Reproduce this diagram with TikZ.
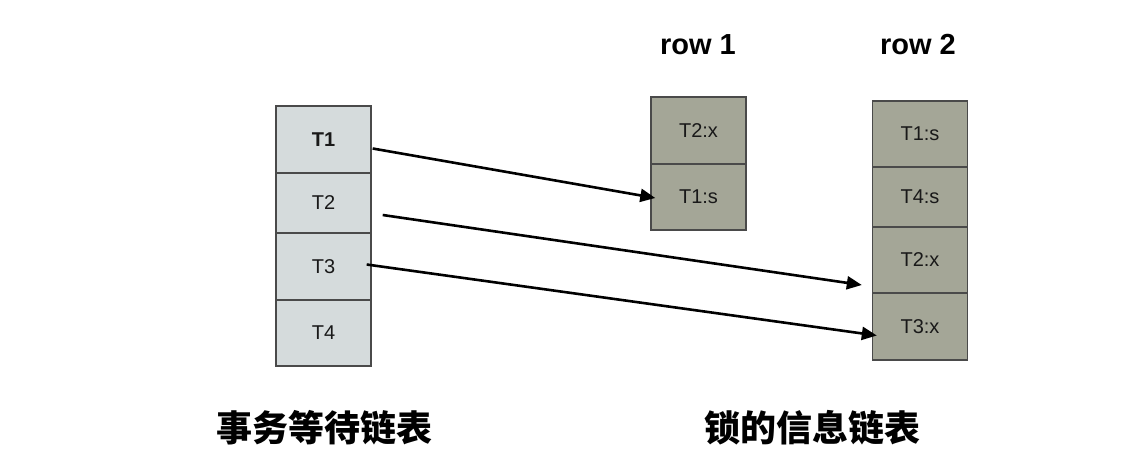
\documentclass[tikz,border=0pt]{standalone}
\usepackage{fontspec}
\setmainfont{Liberation Sans}
\newfontfamily\cjkfont{Noto Sans CJK SC}
\usetikzlibrary{arrows.meta}
\definecolor{waitgray}{HTML}{D5DBDC}
\definecolor{lockgray}{HTML}{A4A697}
\definecolor{edgegray}{HTML}{4A4A4A}
\begin{document}
\begin{tikzpicture}[x=1pt,y=-1pt,
    cell/.style={draw=edgegray, line width=1.4pt, minimum width=95pt, inner sep=0pt,
        font=\fontsize{20}{24}\selectfont, text=black!90},
    waitcell/.style={cell, fill=waitgray},
    lockcell/.style={cell, fill=lockgray},
    link/.style={line width=2.6pt, -{Triangle[length=15pt,width=13pt]}}]
    \useasboundingbox (0,0) rectangle (1137,474);
    % transaction wait list
    \node[waitcell, minimum height=67pt] (t1) at (323.5,139.5) {\bfseries T1};
    \node[waitcell, minimum height=60pt] (t2) at (323.5,203) {T2};
    \node[waitcell, minimum height=67pt] (t3) at (323.5,266.5) {T3};
    \node[waitcell, minimum height=66pt] (t4) at (323.5,333) {T4};
    % lock list of row 1
    \node[lockcell, minimum height=67pt] (ra2) at (698.5,130.5) {T2:x};
    \node[lockcell, minimum height=66pt] (ra1) at (698.5,197) {T1:s};
    % lock list of row 2
    \node[lockcell, minimum height=66pt] (rb1) at (920,134) {T1:s};
    \node[lockcell, minimum height=60pt] (rb4) at (920,197) {T4:s};
    \node[lockcell, minimum height=66pt] (rb2) at (920,260) {T2:x};
    \node[lockcell, minimum height=67pt] (rb3) at (920,326.5) {T3:x};
    % headings
    \node[font=\fontsize{29}{34}\selectfont\bfseries] (row1) at (698,45) {row 1};
    \node[font=\fontsize{29}{34}\selectfont\bfseries] (row2) at (918,45) {row 2};
    \node[font=\cjkfont\fontsize{36}{42}\selectfont\bfseries] (waitlist) at (324,428) {事务等待链表};
    \node[font=\cjkfont\fontsize{36}{42}\selectfont\bfseries] (locklist) at (812,428) {锁的信息链表};
    % waits
    \draw[link] ([shift={(1,9)}]t1.east) -- ([shift={(5,1)}]ra1.west);
    \draw[link] ([shift={(11,12)}]t2.east) -- ([shift={(-10,25)}]rb2.west);
    \draw[link] ([shift={(-5,-2)}]t3.east) -- ([shift={(5,9)}]rb3.west);
\end{tikzpicture}
\end{document}
